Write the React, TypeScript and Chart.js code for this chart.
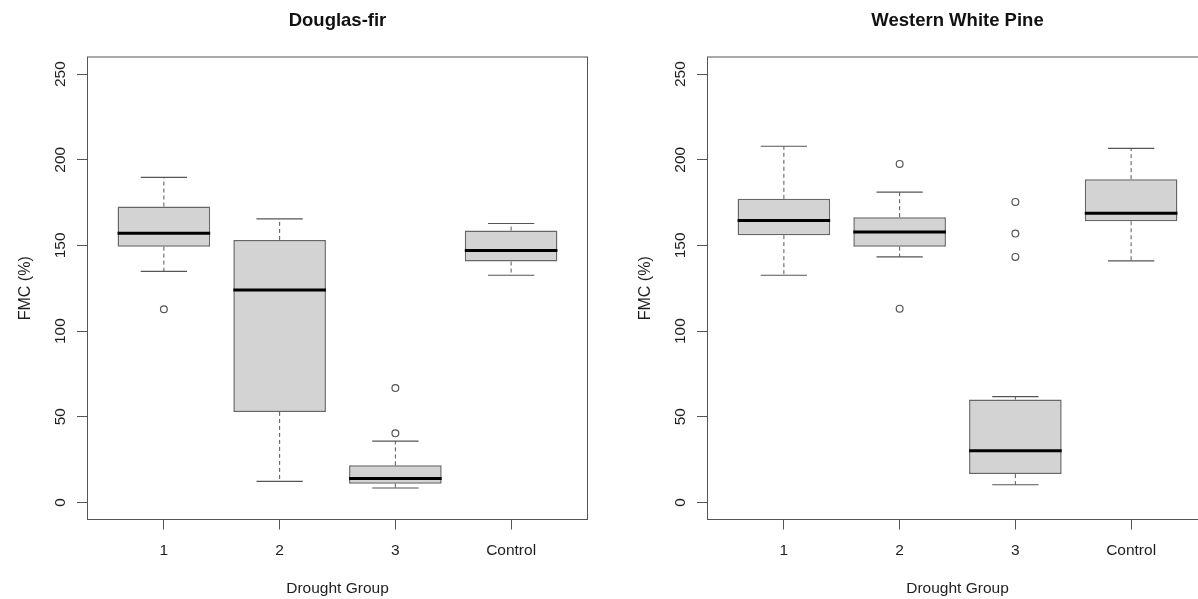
import React, { useEffect, useRef } from 'react';
import { Chart, registerables } from 'chart.js';

Chart.register(...registerables);

// ---------- data ----------
const groups = ['1', '2', '3', 'Control'];
const groupPositions = [1, 2, 3, 4];
const yTickValues = [0, 50, 100, 150, 200, 250];

// Douglas-fir
const dfLower = [134.9, 12.3, 8.4, 132.6];
const dfQ1 = [149.3, 52.8, 10.9, 140.6];
const dfMedian = [157.1, 124.0, 14.0, 147.0];
const dfQ3 = [172.7, 153.2, 21.6, 158.7];
const dfUpper = [189.7, 165.5, 35.8, 162.8];
const dfOutliers = [[112.7], [], [66.8, 40.3], []];

// Western White Pine
const wpLower = [132.6, 143.3, 10.3, 141.0];
const wpQ1 = [156.0, 149.3, 16.5, 164.1];
const wpMedian = [164.5, 157.9, 30.2, 168.8];
const wpQ3 = [177.2, 166.5, 60.0, 188.7];
const wpUpper = [207.9, 181.1, 61.7, 206.6];
const wpOutliers = [[], [197.6, 113.1], [175.4, 156.9, 143.3], []];

// ---------- style ----------
const FONT = '"Liberation Sans", Arial, Helvetica, sans-serif';
const LINE = '#555555';
const BOX_BORDER = '#666666';
const BOX_FILL = '#d3d3d3';
const TEXT = '#1e1e1e';
const BOX_W = 0.8;
const CAP_W = 0.4;
const X_MIN = 0.34;
const X_MAX = 4.66;
const Y_MIN = -10;
const Y_MAX = 260;

interface PanelData {
  title: string;
  lower: number[];
  q1: number[];
  median: number[];
  q3: number[];
  upper: number[];
  outliers: number[][];
}

function makeBoxPlugin(p: PanelData) {
  const seg = (ctx: CanvasRenderingContext2D, x1: number, y1: number, x2: number, y2: number) => {
    ctx.beginPath();
    ctx.moveTo(x1, y1);
    ctx.lineTo(x2, y2);
    ctx.stroke();
  };
  return {
    id: 'rBoxExtras',
    afterDatasetsDraw(chart: any) {
      const { ctx, chartArea: a, scales } = chart;
      const x = scales.x;
      const y = scales.y;
      ctx.save();
      ctx.beginPath();
      ctx.rect(a.left, a.top, a.right - a.left, a.bottom - a.top);
      ctx.clip();
      groupPositions.forEach((g, i) => {
        const cx = x.getPixelForValue(g);
        const yU = y.getPixelForValue(p.upper[i]);
        const yL = y.getPixelForValue(p.lower[i]);
        const y3 = y.getPixelForValue(p.q3[i]);
        const y1 = y.getPixelForValue(p.q1[i]);
        const ym = y.getPixelForValue(p.median[i]);
        // dashed whiskers
        ctx.strokeStyle = LINE;
        ctx.lineWidth = 1;
        ctx.setLineDash([4, 3]);
        seg(ctx, cx, y3, cx, yU);
        seg(ctx, cx, y1, cx, yL);
        ctx.setLineDash([]);
        // staples
        ctx.lineWidth = 1.2;
        const cl = x.getPixelForValue(g - CAP_W / 2);
        const cr = x.getPixelForValue(g + CAP_W / 2);
        seg(ctx, cl, yU, cr, yU);
        seg(ctx, cl, yL, cr, yL);
        // median
        ctx.strokeStyle = '#000000';
        ctx.lineWidth = 3;
        seg(ctx, x.getPixelForValue(g - BOX_W / 2), ym, x.getPixelForValue(g + BOX_W / 2), ym);
      });
      ctx.restore();
      // frame
      ctx.save();
      ctx.strokeStyle = LINE;
      ctx.lineWidth = 1;
      ctx.strokeRect(a.left, a.top, a.right - a.left, a.bottom - a.top);
      ctx.restore();
    },
    afterDraw(chart: any) {
      const { ctx, chartArea: a, scales } = chart;
      const x = scales.x;
      const y = scales.y;
      ctx.save();
      ctx.fillStyle = TEXT;
      // title
      ctx.font = `bold 18.5px ${FONT}`;
      ctx.textAlign = 'center';
      ctx.textBaseline = 'alphabetic';
      ctx.fillStyle = '#111111';
      ctx.fillText(p.title, (a.left + a.right) / 2, 25.5);
      ctx.fillStyle = TEXT;
      // x tick labels
      ctx.font = `15.5px ${FONT}`;
      groupPositions.forEach((g, i) => {
        ctx.fillText(groups[i], x.getPixelForValue(g), a.bottom + 35.5);
      });
      // x title
      ctx.font = `15.5px ${FONT}`;
      ctx.fillText('Drought Group', (a.left + a.right) / 2, a.bottom + 73);
      // y tick labels (rotated)
      ctx.font = `15.5px ${FONT}`;
      yTickValues.forEach((v) => {
        ctx.save();
        ctx.translate(a.left - 22.5, y.getPixelForValue(v));
        ctx.rotate(-Math.PI / 2);
        ctx.textAlign = 'center';
        ctx.fillText(String(v), 0, 0);
        ctx.restore();
      });
      // y title
      ctx.font = `16px ${FONT}`;
      ctx.save();
      ctx.translate(a.left - 58, (a.top + a.bottom) / 2);
      ctx.rotate(-Math.PI / 2);
      ctx.textAlign = 'center';
      ctx.fillText('FMC (%)', 0, 0);
      ctx.restore();
      ctx.restore();
    },
  };
}

function BoxPanel({ data, left }: { data: PanelData; left: number }) {
  const ref = useRef<HTMLCanvasElement | null>(null);
  useEffect(() => {
    if (!ref.current) return;
    const boxData = groupPositions.map((g, i) => ({ x: g, y: [data.q1[i], data.q3[i]] }));
    const outlierData: { x: number; y: number }[] = [];
    data.outliers.forEach((arr, i) => arr.forEach((v) => outlierData.push({ x: groupPositions[i], y: v })));
    const chart = new Chart(ref.current, {
      type: 'bar',
      data: {
        datasets: [
          {
            type: 'bar',
            label: 'box',
            data: boxData as any,
            backgroundColor: BOX_FILL,
            borderColor: BOX_BORDER,
            borderWidth: 1.5,
            borderSkipped: false,
            barPercentage: BOX_W,
            categoryPercentage: 1,
          } as any,
          {
            type: 'scatter',
            label: 'outliers',
            data: outlierData,
            pointRadius: 3.4,
            pointHoverRadius: 3.4,
            pointBackgroundColor: 'rgba(0,0,0,0)',
            pointBorderColor: LINE,
            pointBorderWidth: 1.2,
            showLine: false,
          } as any,
        ],
      },
      options: {
        animation: false,
        responsive: false,
        events: [],
        layout: { padding: { top: 57, right: 32.5, left: 0, bottom: 0 } },
        plugins: {
          legend: { display: false },
          title: { display: false },
          tooltip: { enabled: false },
        },
        scales: {
          x: {
            type: 'linear',
            min: X_MIN,
            max: X_MAX,
            offset: false,
            afterBuildTicks: (s: any) => {
              s.ticks = groupPositions.map((v) => ({ value: v }));
            },
            afterFit: (s: any) => {
              s.height = 79.5;
            },
            ticks: { display: false },
            grid: {
              display: true,
              offset: false,
              drawOnChartArea: false,
              drawTicks: true,
              tickLength: 10,
              tickColor: LINE,
              tickWidth: 1,
            },
            border: { display: false },
          },
          y: {
            type: 'linear',
            min: Y_MIN,
            max: Y_MAX,
            afterBuildTicks: (s: any) => {
              s.ticks = yTickValues.map((v) => ({ value: v }));
            },
            afterFit: (s: any) => {
              s.width = 87.5;
            },
            ticks: { display: false },
            grid: {
              display: true,
              drawOnChartArea: false,
              drawTicks: true,
              tickLength: 10.5,
              tickColor: LINE,
              tickWidth: 1,
            },
            border: { display: false },
          },
        } as any,
      },
      plugins: [makeBoxPlugin(data)],
    } as any);
    return () => chart.destroy();
  }, [data]);
  return (
    <canvas
      ref={ref}
      width={620}
      height={599}
      style={{ position: 'absolute', left, top: 0, width: 620, height: 599 }}
    />
  );
}

const douglasFir: PanelData = {
  title: 'Douglas-fir',
  lower: dfLower,
  q1: dfQ1,
  median: dfMedian,
  q3: dfQ3,
  upper: dfUpper,
  outliers: dfOutliers,
};

const whitePine: PanelData = {
  title: 'Western White Pine',
  lower: wpLower,
  q1: wpQ1,
  median: wpMedian,
  q3: wpQ3,
  upper: wpUpper,
  outliers: wpOutliers,
};

export default function App() {
  return (
    <div
      style={{
        position: 'fixed',
        left: 0,
        top: 0,
        width: 1198,
        height: 599,
        overflow: 'hidden',
        background: '#ffffff',
      }}
    >
      <BoxPanel data={douglasFir} left={0} />
      <BoxPanel data={whitePine} left={620} />
    </div>
  );
}
